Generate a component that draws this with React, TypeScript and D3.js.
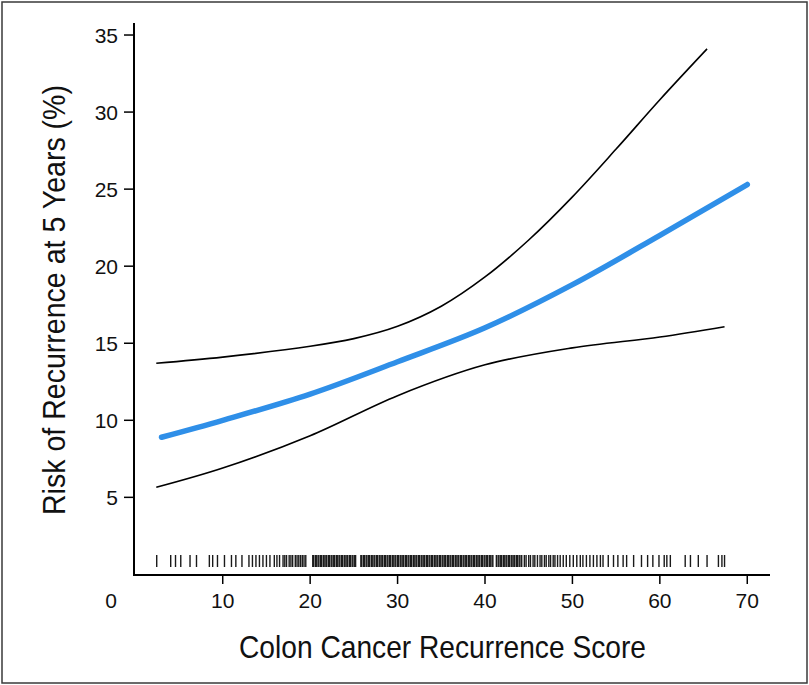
import React from "react";
import * as d3 from "d3";

// x positions of data points (Recurrence Score)
const fitX = [3, 10, 20, 30, 40, 50, 60, 70];
const fitY = [8.9, 10.0, 11.7, 13.8, 16.0, 18.8, 22.0, 25.3];

const upperX = [2.4, 10, 20, 25, 30, 35, 40, 45, 50, 55, 60, 65.4];
const upperY = [13.7, 14.1, 14.8, 15.3, 16.1, 17.4, 19.3, 21.7, 24.5, 27.6, 30.8, 34.1];

const lowerX = [2.4, 10, 20, 30, 40, 50, 60, 67.4];
const lowerY = [5.65, 6.9, 9.0, 11.6, 13.6, 14.7, 15.4, 16.07];

const rugValues = [
  2.45, 4.05, 4.6, 5.2, 6.26, 7.0, 8.47, 8.85, 9.4, 10.2, 11.0, 11.5, 12.2,
  13.0, 13.4, 13.8, 14.2, 14.6, 15.0, 15.4, 15.9, 16.2, 16.5, 16.9,
  17.1, 17.3, 17.6, 17.8, 18.0, 18.3, 18.5, 18.7, 18.9, 19.1, 19.3, 19.5,
  20.3, 20.4, 20.6, 20.7, 20.9, 21.0, 21.2, 21.3, 21.5, 21.6, 21.8, 21.9, 22.1, 22.2,
  22.4, 22.5, 22.7, 22.8, 23.0, 23.1, 23.3, 23.4, 23.6, 23.7, 23.9, 24.0, 24.2, 24.3,
  24.5, 24.6, 24.8, 24.9, 25.1, 25.2, 25.8, 25.9, 26.1, 26.2, 26.4, 26.5, 26.7, 26.8,
  27.0, 27.1, 27.3, 27.4, 27.6, 27.7, 27.9, 28.0, 28.2, 28.3, 28.5, 28.6, 28.8, 28.9,
  29.1, 29.2, 29.4, 29.5, 29.7, 29.8, 30.0, 30.1, 30.3, 30.4, 30.6, 30.7, 30.9, 31.0,
  31.2, 31.3, 31.5, 31.6, 31.8, 31.9, 32.1, 32.2, 32.4, 32.5, 32.7, 32.8, 33.0, 33.1,
  33.3, 33.4, 33.6, 33.7, 33.9, 34.0, 34.2, 34.3, 34.5, 34.6, 34.8, 34.9, 35.1, 35.2,
  35.4, 35.5, 35.7, 35.8, 36.0, 36.1, 36.3, 36.4, 36.6, 36.7, 36.9, 37.0, 37.2, 37.3,
  37.5, 37.6, 37.8, 37.9, 38.1, 38.2, 38.4, 38.5, 38.7, 38.8, 39.0, 39.1, 39.3, 39.4,
  39.6, 39.7, 39.9, 40.0, 40.2, 40.3, 40.5, 40.6, 40.8, 40.9, 41.3, 41.5, 41.6, 41.8,
  41.9, 42.1, 42.2, 42.4, 42.5, 42.7, 42.8, 43.0, 43.1, 43.3, 43.4, 43.6, 43.7, 43.9,
  44.0, 44.2, 44.5, 44.7, 45.0, 45.2, 45.5, 45.7, 46.0, 46.3, 46.5, 46.8, 47.0, 47.3,
  47.5, 47.8, 48.0, 48.3, 48.6,
  48.95, 49.3, 49.7, 50.1, 50.5, 50.9, 51.2, 51.6, 52.0, 52.4, 52.8, 53.2, 53.5, 54.1,
  54.7, 55.2, 55.8, 56.2, 57.0, 57.9, 58.6, 59.2, 59.9, 60.5, 60.8, 61.2, 62.9, 63.5,
  64.4, 65.4, 66.7, 67.1, 67.4,
];

const xTicks = [10, 20, 30, 40, 50, 60, 70];
const yTicks = [5, 10, 15, 20, 25, 30, 35];
const xTitle = "Colon Cancer Recurrence Score";
const yTitle = "Risk of Recurrence at 5 Years (%)";

const W = 809;
const H = 685;

export default function App() {
  const x = d3.scaleLinear().domain([0, 72.6]).range([135.3, 770]);
  const y = d3.scaleLinear().domain([0, 35.78]).range([574.4, 23]);

  const line = d3
    .line<[number, number]>()
    .x((d) => x(d[0]))
    .y((d) => y(d[1]))
    .curve(d3.curveCatmullRom.alpha(0.5));

  const fit = fitX.map((v, i) => [v, fitY[i]] as [number, number]);
  const up = upperX.map((v, i) => [v, upperY[i]] as [number, number]);
  const lo = lowerX.map((v, i) => [v, lowerY[i]] as [number, number]);

  const axisY = 575;
  const axisX = 134;
  const tickFont = "'Liberation Sans', Arial, sans-serif";
  const titleFont = "'Liberation Sans Narrow', 'Liberation Sans', Arial, sans-serif";

  return (
    <svg
      width={W}
      height={H}
      style={{ position: "absolute", left: 0, top: 0, background: "#fff" }}
    >
      <rect x={0} y={0} width={W} height={H} fill="#fff" />
      <rect x={2} y={2} width={805} height={681} fill="none" stroke="#3a3a3a" strokeWidth={1.5} />

      {/* rug */}
      <g stroke="#1a1a1a" strokeWidth={1.4}>
        {rugValues.map((v, i) => (
          <line key={i} x1={x(v)} x2={x(v)} y1={555} y2={567} />
        ))}
      </g>

      {/* axes */}
      <line x1={axisX} x2={axisX} y1={23} y2={axisY + 1} stroke="#000" strokeWidth={2} />
      <line x1={axisX - 1} x2={770} y1={axisY} y2={axisY} stroke="#000" strokeWidth={2} />

      {xTicks.map((t) => (
        <g key={t}>
          <line x1={x(t)} x2={x(t)} y1={axisY} y2={axisY + 9} stroke="#000" strokeWidth={1.5} />
          <text x={x(t)} y={607.5} textAnchor="middle" fontFamily={tickFont} fontSize={21} fill="#111">
            {t}
          </text>
        </g>
      ))}
      <text x={111} y={607.5} textAnchor="middle" fontFamily={tickFont} fontSize={21} fill="#111">
        0
      </text>

      {yTicks.map((t) => (
        <g key={t}>
          <line x1={axisX - 10} x2={axisX} y1={y(t)} y2={y(t)} stroke="#000" strokeWidth={1.5} />
          <text
            x={118}
            y={y(t)}
            dy="0.36em"
            textAnchor="end"
            fontFamily={tickFont}
            fontSize={21}
            fill="#111"
          >
            {t}
          </text>
        </g>
      ))}

      {/* curves */}
      <path d={line(up) || ""} fill="none" stroke="#000" strokeWidth={1.6} />
      <path d={line(lo) || ""} fill="none" stroke="#000" strokeWidth={1.6} />
      <path
        d={line(fit) || ""}
        fill="none"
        stroke="#2f8fe8"
        strokeWidth={5.5}
        strokeLinecap="round"
      />

      {/* titles */}
      <text
        x={442.5}
        y={658}
        textAnchor="middle"
        fontFamily={titleFont}
        fontSize={32}
        textLength={407}
        lengthAdjust="spacingAndGlyphs"
        fill="#111"
      >
        {xTitle}
      </text>
      <text
        transform="translate(65,300) rotate(-90)"
        textAnchor="middle"
        fontFamily={titleFont}
        fontSize={32}
        textLength={430}
        lengthAdjust="spacingAndGlyphs"
        fill="#111"
      >
        {yTitle}
      </text>
    </svg>
  );
}
